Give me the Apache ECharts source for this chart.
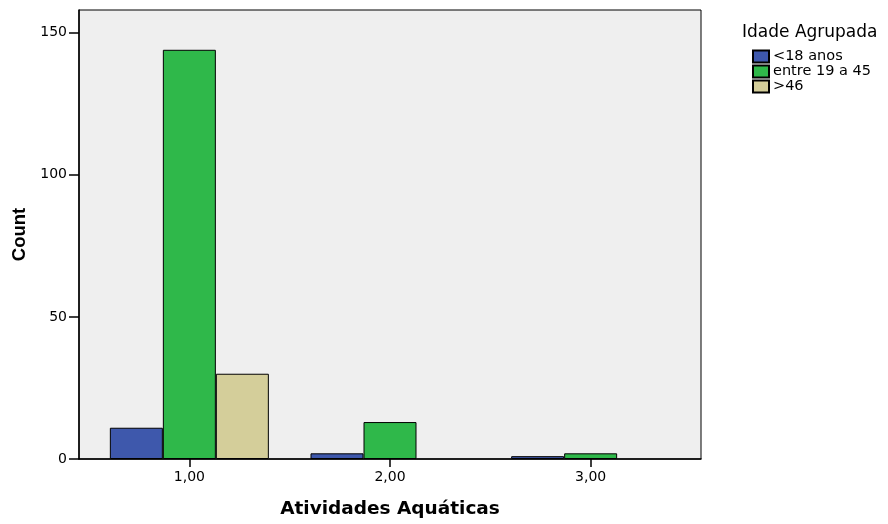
<!DOCTYPE html>
<html><head><meta charset="utf-8">
<script src="https://cdn.jsdelivr.net/npm/echarts@6/dist/echarts.min.js"></script>
<style>html,body{margin:0;padding:0;background:#fff}#c{width:888px;height:524px}</style>
</head><body><div id="c"></div>
<script>
const categories = [1, 2, 3];
const seriesNames = ['<18 anos', 'entre 19 a 45', '>46'];
const under18 = [11, 2, 1];
const between19and45 = [144, 13, 2];
const over46 = [30, null, null];
const yTicks = [0, 50, 100, 150];
const colors = ['#3e58ac', '#2fb84a', '#d4ce9a'];

const values = [under18, between19and45, over46];
const font = 'DejaVu Sans, Verdana, sans-serif';
const fontArial = 'Liberation Sans, Arial, sans-serif';
const chart = echarts.init(document.getElementById('c'));
chart.setOption({
  animation: false,
  backgroundColor: '#fff',
  title: {
    text: 'Idade Agrupada', left: 737, top: 19,
    textStyle: { fontFamily: font, fontSize: 17, fontWeight: 'normal', color: '#000' }
  },
  legend: {
    orient: 'vertical', left: 747, top: 44,
    itemWidth: 16, itemHeight: 12, itemGap: 0,
    icon: 'rect',
    textStyle: { fontFamily: font, fontSize: 14.5, color: '#000', padding: [0, 0, 0, -1] },
    data: seriesNames
  },
  grid: {
    left: 79, top: 10, width: 622, height: 450,
    show: true, backgroundColor: '#efefef', borderColor: '#000', borderWidth: 1
  },
  xAxis: {
    type: 'value', min: 0.45, max: 3.55,
    name: 'Atividades Aquáticas', nameLocation: 'middle', nameGap: 41,
    nameTextStyle: { fontFamily: font, fontSize: 18.5, fontWeight: 'bold', color: '#000' },
    axisLine: { show: true, lineStyle: { color: '#000', width: 1.5 } },
    axisTick: { show: true, customValues: categories, length: 8, lineStyle: { color: '#000', width: 1.5 } },
    axisLabel: {
      customValues: categories, margin: 11,
      fontFamily: font, fontSize: 14, color: '#000',
      formatter: v => v.toFixed(2).replace('.', ',')
    },
    splitLine: { show: false }
  },
  yAxis: {
    type: 'value', min: 0, max: 158,
    name: 'Count', nameLocation: 'middle', nameGap: 48, nameRotate: 90,
    nameTextStyle: { fontFamily: fontArial, fontSize: 18.5, fontWeight: 'bold', color: '#000' },
    axisLine: { show: true, lineStyle: { color: '#000', width: 1.5 } },
    axisTick: { show: true, customValues: yTicks, length: 10, lineStyle: { color: '#000', width: 1.5 } },
    axisLabel: { customValues: yTicks, margin: 12, fontFamily: font, fontSize: 14, color: '#000' },
    splitLine: { show: false }
  },
  series: seriesNames.map((name, i) => ({
    name, type: 'bar', barWidth: 53, barGap: '0%',
    itemStyle: { color: colors[i], borderColor: '#000', borderWidth: 1 },
    data: categories.map((c, j) => values[i][j] == null ? null : [c, values[i][j]]).filter(d => d)
  }))
});
</script></body></html>
